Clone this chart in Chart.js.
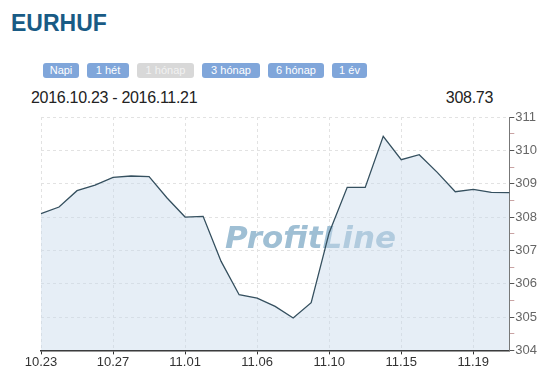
<!DOCTYPE html>
<html>
<head>
<meta charset="utf-8">
<script src="https://cdn.jsdelivr.net/npm/chart.js@4/dist/chart.umd.min.js"></script>
<style>
  body { margin: 0; background: #fff; font-family: "Liberation Sans", Arial, sans-serif; }
  #wrap { position: relative; width: 540px; height: 366px; overflow: hidden; }
  #title { position: absolute; left: 11px; top: 12px; font-size: 23px; line-height: 23px; font-weight: bold; color: #195b85; }
  #buttons { position: absolute; left: 43px; top: 63px; display: flex; gap: 8px; }
  #buttons span { display: block; height: 15px; line-height: 15px; font-size: 11px; color: #fff; background: #80a6da; border-radius: 3px; text-align: center; }
  #buttons span.off { background: #d8d8d8; color: #f2f2f2; }
  #range { position: absolute; left: 31px; top: 90px; font-size: 16px; line-height: 16px; color: #222; letter-spacing: -0.3px; }
  #last { position: absolute; right: 47px; top: 90px; font-size: 16px; line-height: 16px; color: #222; letter-spacing: -0.3px; }
  #chart { position: absolute; left: 0; top: 100px; }
</style>
</head>
<body>
<div id="wrap">
  <div id="title">EURHUF</div>
  <div id="buttons">
    <span style="width:36px">Napi</span>
    <span style="width:42px">1 hét</span>
    <span class="off" style="width:57px">1 hónap</span>
    <span style="width:58px">3 hónap</span>
    <span style="width:56px">6 hónap</span>
    <span style="width:35px">1 év</span>
  </div>
  <div id="range">2016.10.23 - 2016.11.21</div>
  <div id="last"></div>
  <canvas id="chart" width="540" height="270"></canvas>
</div>
<script>
// napok (hh.nn)
const dates = ['10.23', '10.24', '10.25', '10.26', '10.27', '10.28', '10.30', '10.31', '11.01',
    '11.02', '11.03', '11.04', '11.06', '11.07', '11.08', '11.09', '11.10', '11.11',
    '11.13', '11.14', '11.15', '11.16', '11.17', '11.18', '11.19', '11.20', '11.21'];
// EURHUF árfolyam
const rates = [308.10, 308.30, 308.79, 308.96, 309.19, 309.23, 309.21, 308.57, 308.00,
    308.02, 306.67, 305.67, 305.57, 305.32, 304.97, 305.43, 307.53, 308.89,
    308.89, 310.42, 309.72, 309.87, 309.34, 308.76, 308.83, 308.74, 308.73];
const yMin = 304;
const yMax = 311;
const labelEvery = 4;

document.getElementById('last').innerText = rates[rates.length - 1].toFixed(2);

// vízjel a grafikon mögé
const watermark = {
    id: 'watermark',
    beforeDatasetsDraw(chart) {
        const ctx = chart.ctx;
        const area = chart.chartArea;
        ctx.save();
        ctx.font = 'italic bold 31px "DejaVu Sans"';
        ctx.fillStyle = '#9fbfd4';
        ctx.textBaseline = 'alphabetic';
        ctx.fillText('ProfitLine', area.left + 184, area.top + 131);
        ctx.restore();
    }
};

const ctx = document.getElementById('chart').getContext('2d');
const myChart = new Chart(ctx, {
    type: 'line',
    data: {
        labels: dates,
        datasets: [{
            data: rates,
            borderColor: '#35505f',
            borderWidth: 1.3,
            backgroundColor: 'rgba(200, 218, 236, 0.45)',
            fill: 'start',
            pointRadius: 0,
            tension: 0
        }]
    },
    options: {
        responsive: false,
        devicePixelRatio: 1,
        animation: false,
        layout: { padding: { left: 41, top: 17, right: 2, bottom: 0 } },
        plugins: { legend: { display: false }, tooltip: { enabled: false } },
        scales: {
            x: {
                offset: false,
                grid: {
                    color: c => c.index % labelEvery === 0 ? '#e2e2e2' : 'transparent',
                    tickColor: c => c.index % labelEvery === 0 ? '#333' : 'transparent',
                    tickLength: 4
                },
                border: { color: '#333', width: 1.5, dash: [3, 3] },
                ticks: {
                    autoSkip: false,
                    maxRotation: 0,
                    padding: 0,
                    color: '#333',
                    font: { family: '"Liberation Sans", Arial', size: 13 },
                    callback: (v, i) => i % labelEvery === 0 ? dates[i] : ''
                }
            },
            y: {
                position: 'right',
                min: yMin,
                max: yMax,
                grid: {
                    color: c => c.tick && c.tick.value % 1 === 0 ? '#e2e2e2' : 'transparent',
                    tickColor: c => c.tick && c.tick.value % 1 === 0 ? '#555' : '#c9a3a3',
                    tickLength: 5
                },
                border: { color: '#777', width: 1, dash: [3, 3] },
                ticks: {
                    stepSize: 0.5,
                    autoSkip: false,
                    padding: 1,
                    color: '#666',
                    font: { family: '"Liberation Sans", Arial', size: 13 },
                    callback: v => v % 1 === 0 ? v : ''
                }
            }
        }
    },
    plugins: [watermark]
});
</script>
</body>
</html>
